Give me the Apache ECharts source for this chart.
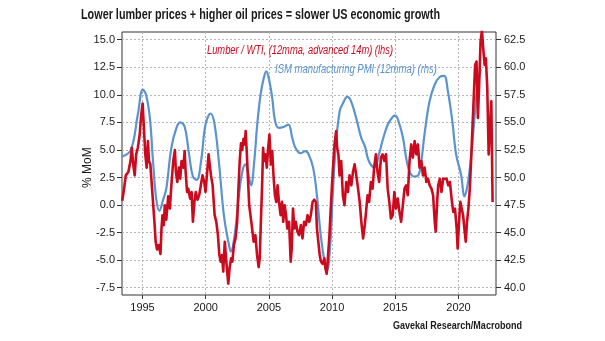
<!DOCTYPE html>
<html>
<head>
<meta charset="utf-8">
<script src="https://cdn.jsdelivr.net/npm/echarts@6/dist/echarts.min.js"></script>
<style>html,body{margin:0;padding:0;background:#fff;}#c{width:605px;height:341px;}</style>
</head>
<body>
<div id="c"></div>
<script>
const FONT = "'Liberation Sans', Arial, sans-serif";
const titleText = 'Lower lumber prices + higher oil prices = slower US economic growth';
const sourceText = 'Gavekal Research/Macrobond';
const redLabel = 'Lumber / WTI, (12mma, advanced 14m) (lhs)';
const blueLabel = 'ISM manufacturing PMI (12mma) (rhs)';
const yAxisName = '% MoM';
const xTickYears = [1995, 2000, 2005, 2010, 2015, 2020];

// Lumber / WTI (lhs) — decimal year and % MoM
const redX = [1993.42,1993.6,1993.7,1993.9,1994.07,1994.18,1994.26,1994.4,1994.52,1994.65,1994.8,1994.92,1995.03,1995.13,1995.24,1995.35,1995.45,1995.53,1995.64,1995.72,1995.85,1995.98,1996.06,1996.17,1996.3,1996.44,1996.52,1996.6,1996.7,1996.78,1996.9,1997.05,1997.18,1997.3,1997.45,1997.58,1997.66,1997.77,1997.9,1998.0,1998.1,1998.24,1998.35,1998.43,1998.54,1998.64,1998.78,1998.9,1999.0,1999.12,1999.23,1999.36,1999.5,1999.63,1999.76,1999.9,2000.0,2000.13,2000.24,2000.43,2000.56,2000.72,2000.85,2000.98,2001.09,2001.2,2001.3,2001.4,2001.52,2001.62,2001.73,2001.8,2001.9,2002.02,2002.12,2002.24,2002.37,2002.5,2002.6,2002.7,2002.8,2002.9,2003.0,2003.1,2003.17,2003.25,2003.33,2003.45,2003.55,2003.68,2003.8,2003.94,2004.07,2004.2,2004.28,2004.39,2004.47,2004.55,2004.63,2004.73,2004.84,2004.95,2005.05,2005.16,2005.27,2005.37,2005.48,2005.59,2005.69,2005.8,2005.93,2006.04,2006.14,2006.25,2006.36,2006.46,2006.6,2006.73,2006.81,2006.91,2007.02,2007.13,2007.26,2007.39,2007.53,2007.66,2007.79,2007.93,2008.06,2008.19,2008.32,2008.46,2008.59,2008.72,2008.8,2008.91,2009.02,2009.12,2009.26,2009.39,2009.47,2009.57,2009.65,2009.79,2009.92,2010.05,2010.19,2010.32,2010.4,2010.5,2010.59,2010.72,2010.85,2010.98,2011.12,2011.25,2011.38,2011.52,2011.65,2011.78,2011.91,2012.05,2012.18,2012.31,2012.45,2012.58,2012.66,2012.8,2012.93,2013.06,2013.2,2013.32,2013.46,2013.59,2013.72,2013.86,2013.99,2014.12,2014.26,2014.39,2014.52,2014.65,2014.79,2014.92,2015.05,2015.19,2015.32,2015.45,2015.59,2015.72,2015.85,2015.98,2016.12,2016.25,2016.38,2016.52,2016.65,2016.78,2016.91,2017.05,2017.18,2017.31,2017.45,2017.58,2017.71,2017.85,2017.98,2018.11,2018.19,2018.3,2018.38,2018.51,2018.64,2018.78,2018.91,2019.04,2019.18,2019.31,2019.44,2019.57,2019.71,2019.84,2019.92,2020.03,2020.13,2020.24,2020.35,2020.45,2020.56,2020.66,2020.77,2020.88,2020.98,2021.09,2021.2,2021.3,2021.41,2021.52,2021.62,2021.73,2021.84,2021.94,2022.05,2022.15,2022.26,2022.37,2022.47,2022.58,2022.68];
const redY = [0.4,1.8,2.7,3.0,4.0,5.2,4.0,2.7,4.6,5.2,6.4,8.2,9.2,7.0,4.6,3.4,5.8,4.0,3.7,2.4,0.3,-1.8,-3.3,-4.0,-3.6,-4.4,-2.1,-0.9,-1.8,0.0,-1.3,0.8,-0.3,1.8,4.0,5.0,3.0,2.1,3.4,2.4,4.0,3.4,4.9,3.0,1.2,1.5,0.6,1.2,-1.5,0.3,1.2,0.5,0.9,1.8,2.7,2.1,1.2,3.0,4.6,2.7,1.8,-0.9,-1.5,-2.7,-4.5,-5.1,-4.5,-6.0,-3.3,-4.8,-6.3,-7.1,-5.7,-4.8,-5.1,-3.6,-3.0,-1.5,1.5,4.0,5.6,5.0,6.0,5.5,6.7,5.0,3.0,0.0,-0.9,-2.1,-3.3,-2.7,-4.5,-5.6,-4.8,-0.9,1.8,5.2,4.0,4.6,3.4,5.2,6.4,3.7,4.9,2.7,0.9,0.3,1.8,0.3,-0.9,0.3,-1.5,0.0,-0.9,-2.1,-1.5,-5.1,-3.9,-0.3,-2.1,-1.5,-2.4,-2.7,-1.8,-3.0,-1.5,-1.8,-0.9,-1.5,-0.9,0.3,0.5,0.3,-2.1,-3.3,-4.5,-5.1,-5.3,-4.8,-5.7,-6.2,-5.1,-2.7,0.3,3.0,5.5,6.7,5.2,4.6,2.7,4.0,0.9,0.0,2.1,1.2,2.7,1.8,3.0,3.7,2.7,1.5,0.3,-1.5,-3.0,-1.8,-0.9,0.9,0.3,2.1,1.5,3.4,4.6,3.0,2.1,4.3,4.6,4.0,4.6,1.5,0.3,-1.2,-0.9,1.2,-0.3,0.6,-0.6,-1.5,0.0,1.5,1.8,0.9,4.0,5.5,4.3,5.8,4.6,5.5,3.4,4.0,2.7,3.4,2.1,2.4,1.8,1.5,0.9,-1.5,-2.4,0.3,1.8,2.4,1.2,2.4,2.3,2.4,1.8,2.1,0.6,-0.6,-0.3,-2.1,-3.9,-1.5,0.3,-0.3,-0.9,-2.1,-3.3,-1.5,-0.3,1.5,4.0,7.0,10.0,12.7,13.0,7.9,10.9,14.8,15.8,14.2,12.7,13.3,10.6,4.6,7.0,9.4,0.3];

// ISM manufacturing PMI 12mma (rhs)
const blueX = [1993.42,1994.1,1994.65,1995.05,1995.3,1995.6,1995.85,1996.1,1996.35,1996.65,1996.9,1997.3,1997.7,1998.0,1998.35,1998.7,1999.0,1999.3,1999.65,2000.0,2000.4,2000.7,2001.05,2001.45,2001.85,2002.0,2002.3,2002.6,2002.9,2003.15,2003.4,2003.6,2003.85,2004.1,2004.35,2004.6,2004.8,2005.05,2005.27,2005.5,2005.8,2006.2,2006.55,2006.85,2007.1,2007.5,2007.9,2008.15,2008.5,2008.8,2009.1,2009.4,2009.6,2009.85,2010.05,2010.3,2010.6,2010.85,2011.2,2011.5,2011.9,2012.3,2012.6,2012.9,2013.35,2013.7,2014.0,2014.4,2014.8,2015.0,2015.3,2015.6,2015.85,2016.1,2016.45,2016.8,2017.05,2017.3,2017.7,2018.1,2018.5,2018.85,2019.15,2019.5,2019.8,2020.2,2020.45,2020.7,2021.0,2021.25,2021.5,2021.75];
const blueY = [51.9,52.5,55.7,57.95,57.5,55.4,51.5,48.1,47.0,48.0,49.0,52.7,54.5,55.0,54.6,52.1,50.1,49.8,51.5,54.8,55.8,54.9,51.5,46.6,43.9,43.3,44.8,48.0,50.5,51.2,50.2,49.3,51.5,55.0,57.5,59.0,59.6,58.7,57.2,55.1,54.5,54.6,54.8,53.6,52.7,52.2,52.4,52.1,50.9,48.4,44.8,42.4,41.6,43.9,48.4,53.0,56.0,56.7,57.3,56.9,55.4,53.6,52.8,51.5,50.9,52.1,53.4,54.8,55.5,55.6,54.9,53.6,51.8,50.6,50.1,50.2,51.5,53.9,56.9,58.4,59.1,59.2,57.8,55.1,52.1,50.2,48.3,49.3,52.1,55.4,58.4,59.8];

const redData = redX.map((x, i) => [x, redY[i]]);
const blueData = blueX.map((x, i) => [x, blueY[i]]);

const RED = '#cc0a1e';
const BLUE = '#5b93cf';
const TXT = '#1a1a1a';
const gridLine = { show: true, lineStyle: { color: '#b5b5b5', type: [2, 2], width: 1 } };

// horizontal squeeze so the (condensed) reference type fits its measured width
const measureCtx = document.createElement('canvas').getContext('2d');
function squeeze(text, font, width) {
  measureCtx.font = font;
  const w = measureCtx.measureText(text).width;
  return w > 0 ? width / w : 1;
}
function label(text, font, color, x, y, width) {
  return { type: 'text', x: x, y: y, scaleX: squeeze(text, font, width), z: 10,
    style: { text: text, font: font, fill: color, align: 'left', verticalAlign: 'middle' } };
}
const titleFont = "bold 14.5px " + FONT;
const sourceFont = "bold 11.5px " + FONT;
const legendFont = "italic 12px " + FONT;

const chart = echarts.init(document.getElementById('c'), null, { renderer: 'canvas' });
chart.setOption({
  animation: false,
  backgroundColor: '#fff',
  textStyle: { fontFamily: FONT },
  graphic: [
    label(titleText, titleFont, TXT, 81, 15, 359),
    label(sourceText, sourceFont, TXT, 393, 326, 129),
    label(redLabel, legendFont, RED, 207, 50.5, 186),
    label(blueLabel, legendFont, BLUE, 275, 69.3, 162)
  ],
  grid: [
    { left: 122, right: 109, top: 32, bottom: 46, show: true, borderColor: '#333', borderWidth: 1, backgroundColor: 'transparent' },
    { left: 122, right: 109, top: 39.7, bottom: 53.3 },
    { left: 142.5, right: 146.5, top: 32, bottom: 46 }
  ],
  xAxis: [
    { type: 'value', gridIndex: 0, min: 1993.4, max: 2022.95, show: false },
    { type: 'value', gridIndex: 1, min: 0, max: 1, show: false },
    { type: 'value', gridIndex: 2, min: xTickYears[0], max: xTickYears[xTickYears.length - 1], interval: 5,
      axisLine: { show: false },
      axisTick: { show: true, length: 4, lineStyle: { color: '#333' } },
      axisLabel: { color: TXT, fontSize: 11, margin: 7, fontFamily: FONT, formatter: v => String(v) },
      splitLine: gridLine }
  ],
  yAxis: [
    { type: 'value', gridIndex: 0, min: -8.12, max: 15.67, show: false },
    { type: 'value', gridIndex: 0, min: 39.38, max: 63.17, show: false, position: 'right' },
    { type: 'value', gridIndex: 1, min: -7.5, max: 15, interval: 2.5, position: 'left',
      name: yAxisName, nameLocation: 'middle', nameGap: 28, nameRotate: 90, nameMoveOverlap: false,
      nameTextStyle: { color: TXT, fontSize: 12, fontFamily: FONT, padding: [0, 0, 0, -8] },
      axisLine: { show: false },
      axisTick: { show: true, length: 5, lineStyle: { color: '#333' } },
      axisLabel: { color: TXT, fontSize: 11, margin: 7, fontFamily: FONT, formatter: v => v.toFixed(1) },
      splitLine: gridLine },
    { type: 'value', gridIndex: 1, min: 40, max: 62.5, interval: 2.5, position: 'right',
      axisLine: { show: false },
      axisTick: { show: true, length: 5, lineStyle: { color: '#333' } },
      axisLabel: { color: TXT, fontSize: 11, margin: 8, fontFamily: FONT, formatter: v => v.toFixed(1) },
      splitLine: { show: false } },
    { type: 'value', gridIndex: 2, min: 0, max: 1, show: false }
  ],
  series: [
    { type: 'line', name: blueLabel, xAxisIndex: 0, yAxisIndex: 1, data: blueData, smooth: 0.4,
      symbol: 'none', lineStyle: { color: BLUE, width: 2.2 }, clip: true, z: 3 },
    { type: 'line', name: redLabel, xAxisIndex: 0, yAxisIndex: 0, data: redData,
      symbol: 'none', lineStyle: { color: RED, width: 2.6, join: 'round' }, clip: true, z: 4 }
  ]
});
</script>
</body>
</html>
